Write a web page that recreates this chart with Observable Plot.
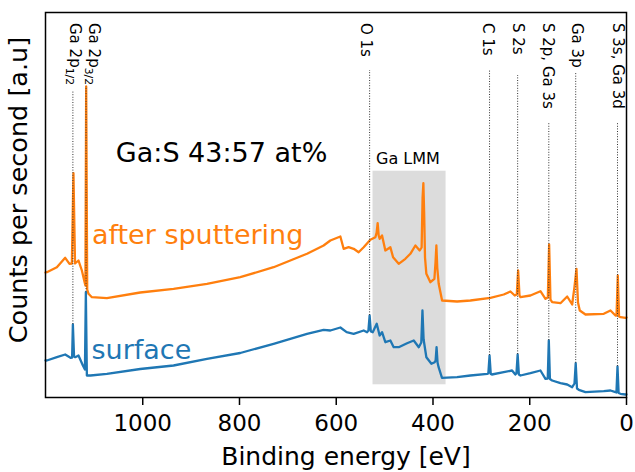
<!DOCTYPE html>
<html><head><meta charset="utf-8">
<script src="https://cdn.jsdelivr.net/npm/d3@7"></script>
<script src="https://cdn.jsdelivr.net/npm/@observablehq/plot@0.6"></script>
<style>body{margin:0;background:#fff}</style>
</head><body><div id="chart"></div>
<script>
// ---- data (binding energy in eV, counts in arbitrary units) ----
const energyAfter = [1201, 1198.2, 1177.5, 1160.3, 1151.4, 1146.5, 1143.2, 1140, 1132.8, 1125.8,
  1121.0, 1118.5, 1116.9, 1114.8, 1112.1, 1105.1, 1074.1, 1005.2, 936.3, 867.2,
  798.4, 729.5, 660.4, 626.1, 612.2, 591.5, 584.7, 574.4, 564.0, 553.7,
  543.3, 529.5, 519.1, 516.5, 514.4, 512.3, 510.3, 505.3, 498.5, 488.1,
  482.5, 470.9, 457.1, 446.8, 436.4, 427.5, 423.5, 421.5, 419.9, 418.3,
  416.5, 413.7, 405.4, 397.1, 394.8, 393.0, 391.2, 388.2, 381.2, 350.2,
  322.7, 281.3, 253.8, 239.9, 231.0, 226.8, 224.0, 221.2, 219.2, 198.6,
  177.9, 167.5, 162.6, 159.9, 157.2, 153.7, 136.5, 122.6, 112.3, 107.6,
  103.4, 100.3, 96.6, 84.8, 47.0, 33.1, 22.8, 20.6, 18.0, 15.4,
  12.4, 2.1, 0];
const countsAfter = [125, 125.3, 130.3, 139.7, 133.7, 134, 224.3, 134, 137, 127,
  117, 112, 311, 108, 103.7, 100.3, 99.3, 105, 108.7, 113.7,
  120.3, 130.3, 143.7, 152, 157, 161, 148.7, 150.3, 148.7, 145.3,
  150.3, 157.7, 160.3, 165, 174.3, 162, 158.7, 162, 147, 150.3,
  140.3, 133.7, 138.7, 143.7, 152, 147, 150, 200, 214.3, 185,
  140, 123.7, 115.3, 118.7, 135, 152, 130, 113.7, 97, 96,
  97, 99.7, 103, 106, 102, 103, 127, 102, 100.3, 102,
  106.3, 98.7, 100, 153, 98, 95.3, 94.3, 101, 93, 110.3,
  128.7, 95, 87, 83, 83.7, 87, 82, 82, 122, 81,
  80.3, 79.7, 80];
const energySurface = [1201, 1198.2, 1177.5, 1160.3, 1149.3, 1146, 1144.4, 1142, 1139.6, 1132.8,
  1123.7, 1119.5, 1117.6, 1115.5, 1108, 1074.1, 1005.2, 936.3, 867.2, 798.4,
  729.5, 660.4, 626.1, 612.2, 591.5, 578.5, 564.0, 543.3, 536.4, 533.5,
  531.0, 528.5, 524.6, 516.3, 510.3, 505.3, 498.5, 488.1, 481.2, 470.9,
  453.6, 439.8, 429.4, 424.2, 421.8, 419.4, 413.7, 403.3, 396.5, 394.6,
  392.6, 390.6, 388.4, 381.4, 350.2, 322.7, 287.8, 285.6, 283.1, 280.6,
  278.4, 253.8, 236.6, 229.8, 227.5, 225.0, 222.5, 219.2, 198.6, 177.9,
  167.5, 162.8, 160.6, 158.3, 153.7, 136.5, 122.6, 112.3, 107.5, 105.0,
  102.3, 98.6, 84.8, 47.0, 33.1, 22.8, 20.8, 18.6, 16.3, 12.4,
  2.1, 0];
const countsSurface = [37, 37, 40.3, 43, 39.7, 40, 73, 41, 40.3, 42,
  32, 28, 105.3, 22, 22, 23.7, 28.5, 32, 38.7, 44.5,
  53.7, 63.7, 67.7, 67, 70, 65.3, 63.7, 67, 65.3, 67,
  82, 66, 65.3, 73.7, 62, 65.3, 55.3, 57, 50.3, 50.3,
  54.3, 57, 50.3, 55, 87, 58, 40.3, 33.7, 35.3, 37,
  50.3, 35, 30.3, 19.7, 20.3, 22, 23.7, 24, 42, 23.5,
  23, 25.3, 27, 23, 24, 43, 23, 22, 24.3, 27,
  18.7, 19, 57, 18.5, 17, 14.3, 13, 10.3, 14, 34.3,
  9, 7.7, 5.3, 6.3, 7, 5.3, 5, 31, 4.5, 3.7,
  3, 3];

const peakLabels = ["Ga 2p_1/2", "Ga 2p_3/2", "O 1s", "C 1s", "S 2s", "S 2p, Ga 3s", "Ga 3p", "S 3s, Ga 3d"];
const peakEnergies = [1144.4, 1117.2, 531.0, 283.1, 225.0, 160.6, 105.0, 18.6];
const labelEnergies = [1141.3, 1101.7, 539.8, 287.7, 224.6, 162.2, 103.0, 17.4];
const markerTops = [307, 311, 327, 327, 322, 275.3, 325.3, 275.3];
const markerBottoms = [73, 105.3, 82, 42, 43, 57, 34.3, 31];

const lmmEnergies = [524, 373];
const lmmCounts = [12.7, 226.3];

const xTicks = [0, 200, 400, 600, 800, 1000];
const xTickLabels = ["0", "200", "400", "600", "800", "1000"];

// ---- build tables ----
const after = energyAfter.map((e, i) => ({e, c: countsAfter[i]}));
const surface = energySurface.map((e, i) => ({e, c: countsSurface[i]}));
const peaks = peakLabels.map((label, i) => ({
  label, e: peakEnergies[i], le: labelEnergies[i], top: markerTops[i], bottom: markerBottoms[i]
}));
const lmm = [{x1: lmmEnergies[0], x2: lmmEnergies[1], y1: lmmCounts[0], y2: lmmCounts[1]}];

const orange = "#ff7f0e", blue = "#1f77b4";

const chart = Plot.plot({
  width: 635, height: 472,
  marginLeft: 45, marginRight: 9, marginTop: 12, marginBottom: 75,
  style: {fontFamily: "DejaVu Sans", fontSize: "23px", background: "white", color: "black"},
  x: {domain: [1201, 0], label: null},
  y: {domain: [0, 385], axis: null},
  marks: [
    Plot.rect(lmm, {x1: "x1", x2: "x2", y1: "y1", y2: "y2", fill: "#dcdcdc"}),
    Plot.line(after, {x: "e", y: "c", stroke: orange, strokeWidth: 2.3}),
    Plot.line(surface, {x: "e", y: "c", stroke: blue, strokeWidth: 2.3}),
    Plot.ruleX(peaks, {x: "e", y1: "bottom", y2: "top", stroke: "#333", strokeWidth: 1, strokeDasharray: "1,1.6"}),
    Plot.text(peaks, {x: "le", y: 374.5, text: "label", rotate: 90, textAnchor: "start", lineAnchor: "middle", fontSize: 15, fill: "black"}),
    Plot.text(["Ga:S 43:57 at%"], {x: 1055.6, y: 243.9, text: d => d, textAnchor: "start", fontSize: 27, fill: "black"}),
    Plot.text(["after sputtering"], {x: 1105, y: 162.3, text: d => d, textAnchor: "start", fontSize: 27, fill: orange}),
    Plot.text(["surface"], {x: 1106, y: 47.3, text: d => d, textAnchor: "start", fontSize: 27, fill: blue}),
    Plot.text(["Ga LMM"], {x: 451.9, y: 238.8, text: d => d, textAnchor: "middle", fontSize: 16, fill: "black"}),
    Plot.axisX({ticks: xTicks, tickFormat: d => xTickLabels[xTicks.indexOf(d)], tickSize: 8, tickPadding: 9, fontSize: 23, strokeWidth: 1.5, label: null}),
    Plot.text(["Binding energy [eV]"], {frameAnchor: "bottom", textAnchor: "middle", dx: 10, dy: 50, lineAnchor: "top", fontSize: 25, fill: "black"}),
    Plot.text(["Counts per second [a.u]"], {frameAnchor: "left", textAnchor: "middle", rotate: -90, dx: -27, dy: -15, lineAnchor: "middle", fontSize: 25.5, fill: "black"}),
    Plot.frame({stroke: "black", strokeWidth: 1.5})
  ]
});

// subscripts for the Ga 2p labels
chart.querySelectorAll("text").forEach(t => {
  const s = t.textContent;
  if (s.includes("_")) {
    const [main, sub] = s.split("_");
    t.textContent = main;
    const ts = document.createElementNS("http://www.w3.org/2000/svg", "tspan");
    ts.setAttribute("font-size", "0.72em");
    ts.setAttribute("dy", "0.3em");
    ts.textContent = sub;
    t.appendChild(ts);
  }
});

document.getElementById("chart").appendChild(chart);
</script>
</body></html>
